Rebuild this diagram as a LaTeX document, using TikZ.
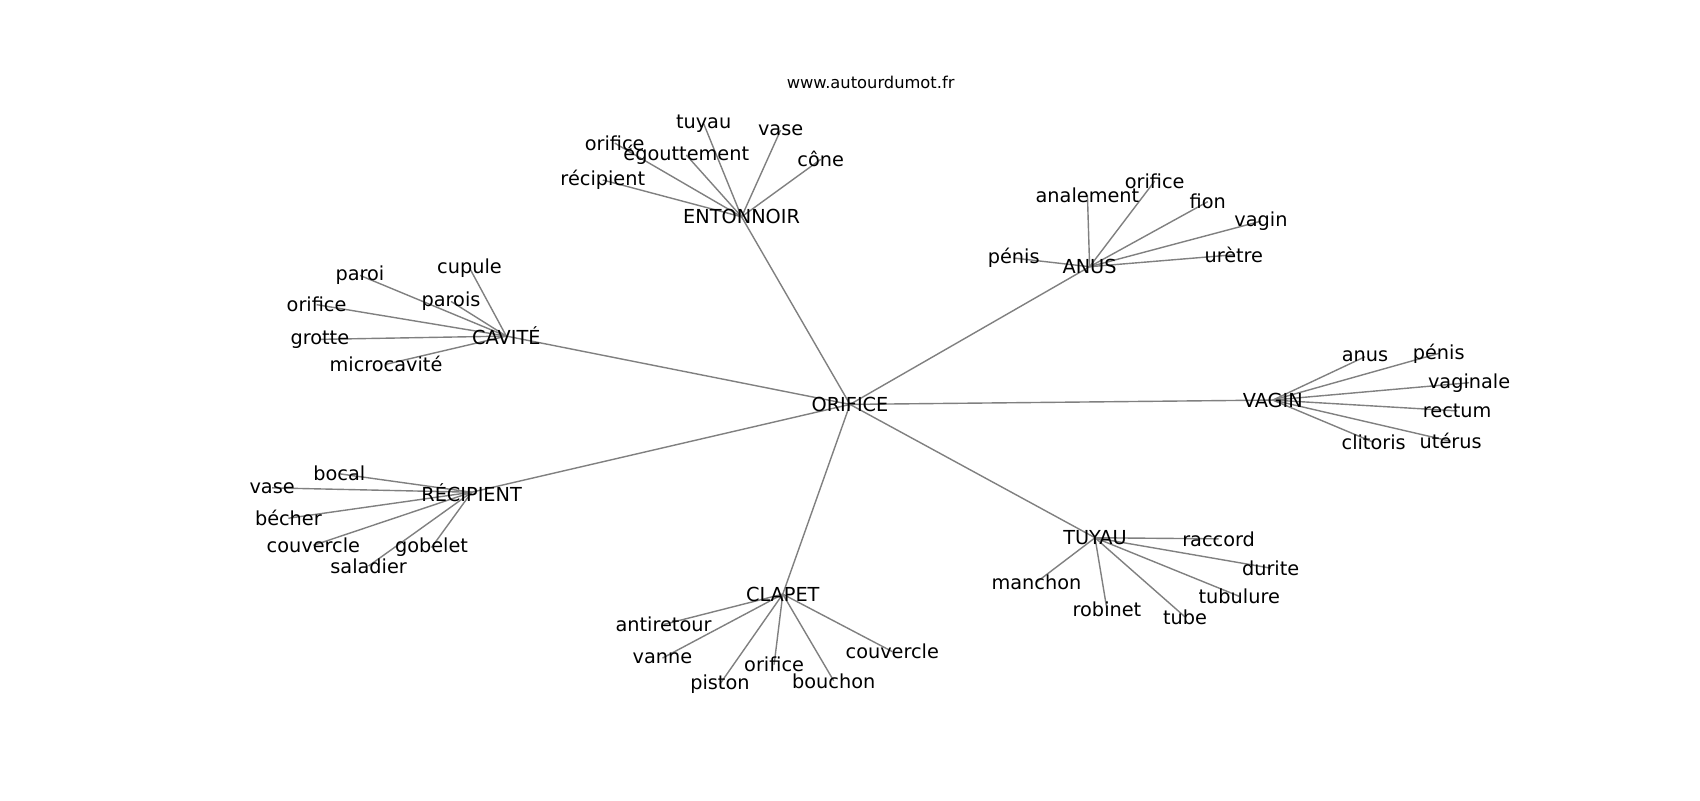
\documentclass[tikz,border=0pt]{standalone}
\usepackage{fontspec}
\setmainfont{DejaVu Sans}
\pgfdeclarelayer{bg}
\pgfsetlayers{bg,main}
\tikzset{
  lbl/.style={inner sep=0pt, anchor=center, font=\fontsize{19.3}{22}\selectfont},
  ttl/.style={inner sep=0pt, anchor=center, font=\fontsize{16.3}{19}\selectfont},
  edge/.style={draw=black!50, line width=1.4pt}
}
\begin{document}
\begin{tikzpicture}[x=1.08418pt,y=-1.08418pt]
\useasboundingbox (0,0) rectangle (1568,737.9);
\node[ttl] (title) at (803,76) {www.autourdumot.fr};
% hubs
\node[lbl] (orifice) at (784,373) {ORIFICE};
\node[lbl] (entonnoir) at (684,200) {ENTONNOIR};
\node[lbl] (anus) at (1005,246) {ANUS};
\node[lbl] (cavite) at (467,310) {CAVITÉ};
\node[lbl] (vagin) at (1174,369) {VAGIN};
\node[lbl] (recipient) at (435,454) {RÉCIPIENT};
\node[lbl] (clapet) at (722,548) {CLAPET};
\node[lbl] (tuyau) at (1010,496) {TUYAU};
% entonnoir
\node[lbl] (e1) at (556,166) {récipient};
\node[lbl] (e2) at (567,132) {orifice};
\node[lbl] (e3) at (633,143) {égouttement};
\node[lbl] (e4) at (649,114) {tuyau};
\node[lbl] (e5) at (720,120) {vase};
\node[lbl] (e6) at (757,147) {cône};
% anus
\node[lbl] (a1) at (935,238) {pénis};
\node[lbl] (a2) at (1003,180) {analement};
\node[lbl] (a3) at (1065,167) {orifice};
\node[lbl] (a4) at (1114,186) {fion};
\node[lbl] (a5) at (1163,204) {vagin};
\node[lbl] (a6) at (1138,235) {urètre};
% cavite
\node[lbl] (c1) at (433,247) {cupule};
\node[lbl] (c2) at (332,254) {paroi};
\node[lbl] (c3) at (416,278) {parois};
\node[lbl] (c4) at (292,281) {orifice};
\node[lbl] (c5) at (295,313) {grotte};
\node[lbl] (c6) at (356,336) {microcavité};
% vagin
\node[lbl] (v1) at (1259,329) {anus};
\node[lbl] (v2) at (1327,326) {pénis};
\node[lbl] (v3) at (1355,353) {vaginale};
\node[lbl] (v4) at (1344,379) {rectum};
\node[lbl] (v5) at (1338,407) {utérus};
\node[lbl] (v6) at (1267,408) {clitoris};
% recipient
\node[lbl] (r1) at (313,437) {bocal};
\node[lbl] (r2) at (251,450) {vase};
\node[lbl] (r3) at (266,478) {bécher};
\node[lbl] (r4) at (289,503) {couvercle};
\node[lbl] (r5) at (398,505) {gobelet};
\node[lbl] (r6) at (340,522) {saladier};
% clapet
\node[lbl] (k1) at (612,576) {antiretour};
\node[lbl] (k2) at (611,607) {vanne};
\node[lbl] (k3) at (664,631) {piston};
\node[lbl] (k4) at (714,613) {orifice};
\node[lbl] (k5) at (769,628) {bouchon};
\node[lbl] (k6) at (823,601) {couvercle};
% tuyau
\node[lbl] (t1) at (1124,497) {raccord};
\node[lbl] (t2) at (1172,524) {durite};
\node[lbl] (t3) at (1143,550) {tubulure};
\node[lbl] (t4) at (1093,569) {tube};
\node[lbl] (t5) at (1021,562) {robinet};
\node[lbl] (t6) at (956,537) {manchon};
\begin{pgfonlayer}{bg}
\fill[white] (0,0) rectangle (1568,737.9);
\foreach \h in {entonnoir,anus,cavite,vagin,recipient,clapet,tuyau}
  \draw[edge] (orifice.center) -- (\h.center);
\foreach \n in {e1,e2,e3,e4,e5,e6}
  \draw[edge] (entonnoir.center) -- (\n.center);
\foreach \n in {a1,a2,a3,a4,a5,a6}
  \draw[edge] (anus.center) -- (\n.center);
\foreach \n in {c1,c2,c3,c4,c5,c6}
  \draw[edge] (cavite.center) -- (\n.center);
\foreach \n in {v1,v2,v3,v4,v5,v6}
  \draw[edge] (vagin.center) -- (\n.center);
\foreach \n in {r1,r2,r3,r4,r5,r6}
  \draw[edge] (recipient.center) -- (\n.center);
\foreach \n in {k1,k2,k3,k4,k5,k6}
  \draw[edge] (clapet.center) -- (\n.center);
\foreach \n in {t1,t2,t3,t4,t5,t6}
  \draw[edge] (tuyau.center) -- (\n.center);
\end{pgfonlayer}
\end{tikzpicture}
\end{document}
